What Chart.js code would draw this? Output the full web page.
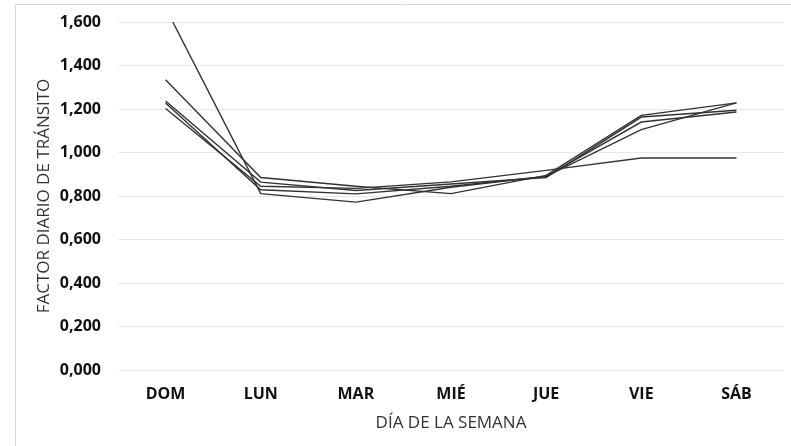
<!DOCTYPE html>
<html>
<head>
<meta charset="utf-8">
<script src="https://cdn.jsdelivr.net/npm/chart.js@4"></script>
<style>
  html, body { margin: 0; padding: 0; background: #fff; }
  #wrap { width: 791px; height: 446px; }
</style>
</head>
<body>
<div id="wrap"><canvas id="factorChart" width="791" height="446"></canvas></div>
<script>
// días de la semana
const days = ['DOM', 'LUN', 'MAR', 'MIÉ', 'JUE', 'VIE', 'SÁB'];

// factores diarios, una serie por estación
const serie1 = [1.665, 0.811, 0.772, 0.840, 0.890, 1.105, 1.228];
const serie2 = [1.335, 0.885, 0.845, 0.811, 0.895, 1.171, 1.228];
const serie3 = [1.237, 0.864, 0.825, 0.855, 0.885, 1.163, 1.194];
const serie4 = [1.228, 0.829, 0.810, 0.845, 0.890, 1.140, 1.186];
const serie5 = [1.202, 0.845, 0.835, 0.865, 0.918, 0.975, 0.975];

const yTicks = [0, 0.2, 0.4, 0.6, 0.8, 1.0, 1.2, 1.4, 1.6];

const series = [serie1, serie2, serie3, serie4, serie5];

// marco gris claro alrededor del gráfico
const framePlugin = {
    id: 'frame',
    beforeDraw(chart) {
        const ctx = chart.ctx;
        ctx.save();
        ctx.strokeStyle = '#d9d9d9';
        ctx.lineWidth = 1;
        ctx.beginPath();
        ctx.moveTo(15.5, 446);
        ctx.lineTo(15.5, 4.5);
        ctx.lineTo(791, 4.5);
        ctx.stroke();
        ctx.restore();
    }
};

const ctx = document.getElementById('factorChart').getContext('2d');
new Chart(ctx, {
    type: 'line',
    data: {
        labels: days,
        datasets: series.map((s, i) => ({
            label: 'Serie ' + (i + 1),
            data: s,
            borderColor: '#333333',
            borderWidth: 1.4,
            pointRadius: 0,
            tension: 0,
            fill: false
        }))
    },
    options: {
        responsive: false,
        animation: false,
        layout: { padding: { left: 15, top: 22, right: 7, bottom: 0 } },
        plugins: {
            legend: { display: false },
            tooltip: { enabled: false }
        },
        scales: {
            x: {
                offset: true,
                grid: { display: false, drawTicks: false },
                border: { display: false },
                ticks: {
                    padding: 15,
                    color: '#111',
                    font: { family: 'Open Sans', size: 16, weight: 'bold' }
                },
                title: {
                    display: true,
                    text: 'DÍA DE LA SEMANA',
                    color: '#333',
                    padding: { top: 0, bottom: 13 },
                    font: { family: 'Open Sans', size: 17 }
                },
                afterFit(scale) { scale.height = 76; }
            },
            y: {
                min: 0,
                max: 1.6,
                afterBuildTicks(scale) { scale.ticks = yTicks.map(v => ({ value: v })); },
                grid: { color: '#e8e8e8', lineWidth: 1, drawTicks: false },
                border: { display: false },
                ticks: {
                    padding: 17,
                    color: '#111',
                    font: { family: 'Open Sans', size: 16, weight: 'bold' },
                    callback: v => v.toFixed(3).replace('.', ',')
                },
                title: {
                    display: true,
                    text: 'FACTOR DIARIO DE TRÁNSITO',
                    color: '#333',
                    padding: { top: 19, bottom: 0 },
                    font: { family: 'Open Sans', size: 17 }
                },
                afterFit(scale) {
                    scale.width = 103;
                    scale.paddingTop = 0;
                    scale.paddingBottom = 0;
                }
            }
        }
    },
    plugins: [framePlugin]
});
</script>
</body>
</html>
